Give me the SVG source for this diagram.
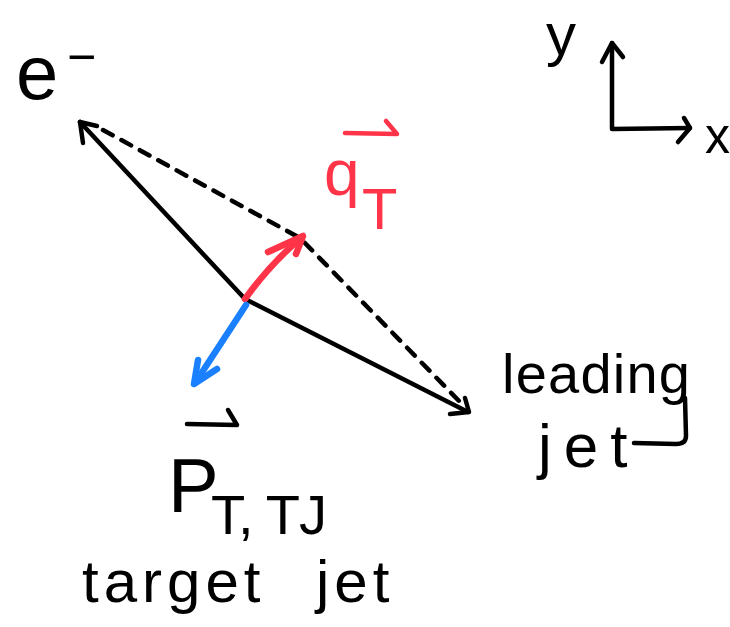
<svg xmlns="http://www.w3.org/2000/svg" width="730" height="627" viewBox="0 0 730 627">
<style>
  .ink{fill:none;stroke:#000;stroke-width:4.5;stroke-linecap:round;stroke-linejoin:round}
  .dash{fill:none;stroke:#000;stroke-width:4.5;stroke-linecap:round;stroke-dasharray:11 10}
  .red{fill:none;stroke:#FF3448;stroke-width:6.5;stroke-linecap:round;stroke-linejoin:round}
  .blue{fill:none;stroke:#1A80FF;stroke-width:6.5;stroke-linecap:round;stroke-linejoin:round}
  .redl{fill:none;stroke:#FF3448;stroke-width:4.5;stroke-linecap:round;stroke-linejoin:round}
  text{font-family:"Liberation Sans",Arial,sans-serif;fill:#000}
  .rt{fill:#FF3448}
</style>
<rect width="730" height="627" fill="#fff"/>
<g id="connectors">
  <path class="dash" d="M103,130 L300,238 L462,404"/>
  <path class="ink" d="M245,299 L80,122"/>
  <path class="ink" d="M83,143 L80,122 L97,126"/>
  <path class="ink" d="M245,299 L468,412"/>
  <path class="ink" d="M465,398 L469,412 L450,414"/>
  <path class="red" d="M245,299 Q270,264 302,237"/>
  <path class="red" d="M268,252 L303,236 L296,254"/>
  <path class="blue" d="M246,305 L195,383"/>
  <path class="blue" d="M198,360 L194,384 L217,369"/>
</g>
<g id="axes">
  <path class="ink" d="M612,43 L612,129 L690,128"/>
  <path class="ink" d="M602,62 L612,43 L623,57"/>
  <path class="ink" d="M684,118 L690,128 L678,142"/>
  <text x="546" y="55" font-size="60">y</text>
  <text x="705" y="153" font-size="50">x</text>
</g>
<g id="electron">
  <text x="16" y="99" font-size="76">e</text>
  <text x="67" y="74" font-size="50">−</text>
</g>
<g id="qT">
  <path class="redl" d="M345,133 L397,134 L386,121"/>
  <text class="rt" x="324" y="195" font-size="64">q</text>
  <text class="rt" x="362" y="229" font-size="58">T</text>
</g>
<g id="target-jet">
  <path class="ink" d="M187,424 L237,425 L228,410"/>
  <text x="168" y="512" font-size="76">P</text>
  <text x="211" y="534" font-size="56" textLength="116" lengthAdjust="spacing">T, TJ</text>
  <text y="602" font-size="60" letter-spacing="5"><tspan x="82">target</tspan><tspan x="316">jet</tspan></text>
</g>
<g id="leading-jet">
  <text x="538" y="467" font-size="62" letter-spacing="12">jet</text>
  <text x="502" y="393" font-size="56" textLength="188" lengthAdjust="spacing">leading</text>
  <path class="ink" d="M685,398 L686,436 Q686,444 676,444 L634,443"/>
</g>
</svg>
